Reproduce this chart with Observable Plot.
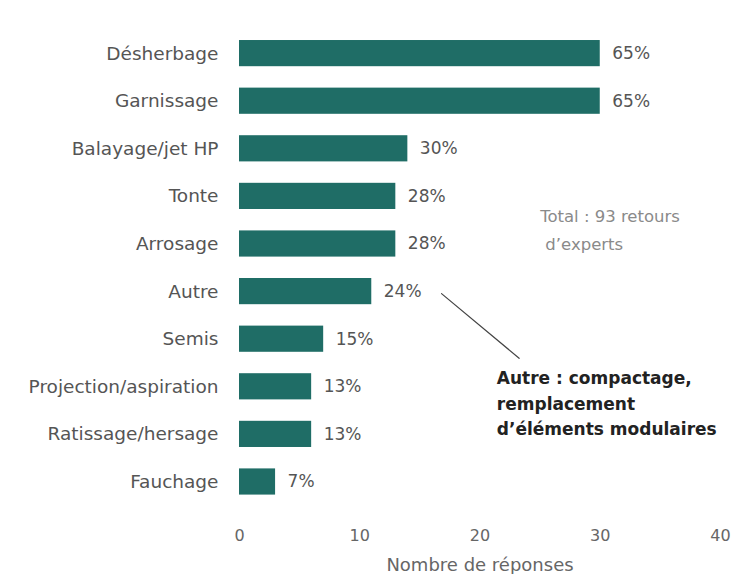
<!DOCTYPE html>
<html><head><meta charset="utf-8">
<script src="https://cdn.jsdelivr.net/npm/d3@7"></script>
<script src="https://cdn.jsdelivr.net/npm/@observablehq/plot@0.6"></script>
<style>body{margin:0;background:#fff;}</style>
</head><body><div id="chart"></div>
<script>
const categories = ["Désherbage","Garnissage","Balayage/jet HP","Tonte","Arrosage","Autre","Semis","Projection/aspiration","Ratissage/hersage","Fauchage"];
const counts = [30,30,14,13,13,11,7,6,6,3];
const pctLabels = ["65%","65%","30%","28%","28%","24%","15%","13%","13%","7%"];
const xTicks = [0,10,20,30,40];
const xLabel = "Nombre de réponses";
const totalNote = "Total : 93 retours\n d’experts";
const autreNote = "Autre : compactage,\nremplacement\nd’éléments modulaires";

const data = categories.map((c,i)=>({cat:c, n:counts[i], pct:pctLabels[i]}));

const chart = Plot.plot({
  width:740, height:574,
  marginLeft:239, marginRight:20, marginTop:18.6, marginBottom:58,
  style:{fontFamily:"DejaVu Sans, sans-serif", fontSize:"17px", color:"#555", background:"#fff"},
  x:{domain:[0,40], ticks:xTicks, label:xLabel},
  y:{domain:categories, padding:0.45, round:false, label:null},
  marks:[
    Plot.barX(data,{x:"n", y:"cat", fill:"#1f6d66"}),
    Plot.text(data,{x:"n", y:"cat", text:"pct", dx:12, textAnchor:"start", fill:"#555", fontSize:17}),
    Plot.text([totalNote],{x:[25], y:["Arrosage"], dy:-17, text:d=>d, textAnchor:"start", fill:"#8a8a8a", fontSize:16.5, lineHeight:1.7}),
    Plot.text([autreNote],{x:[21.4], y:["Projection/aspiration"], dy:15, text:d=>d, textAnchor:"start", fill:"#222", fontSize:17, fontWeight:"bold", lineHeight:1.5}),
    Plot.vector([0],{x:[16.8], y:["Autre"], dy:2, length:101, rotate:129.8, anchor:"start", r:0, stroke:"#444", strokeWidth:1.2}),
    Plot.axisX({ticks:xTicks, tickSize:0, tickPadding:13, fontSize:16, color:"#666", label:null}),
    Plot.axisX({ticks:[], tickSize:0, fontSize:18, color:"#666", label:xLabel, labelAnchor:"center", labelArrow:"none", labelOffset:54}),
    Plot.axisY({tickSize:0, tickPadding:21, fontSize:18.5, color:"#555", label:null})
  ]
});
document.getElementById("chart").appendChild(chart);
</script></body></html>
